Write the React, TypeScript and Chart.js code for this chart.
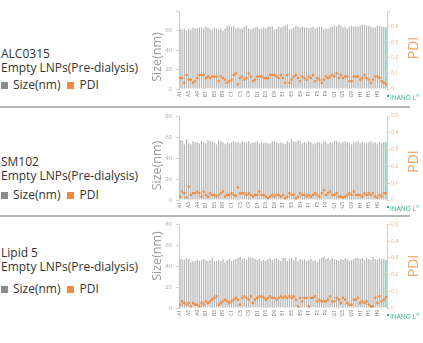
import React, { useEffect, useRef } from 'react';
import { Chart, registerables } from 'chart.js';

Chart.register(...registerables);

const ROWS = ['A', 'B', 'C', 'D', 'E', 'F', 'G', 'H'];
const COLS = [1, 2, 3, 4, 5, 6, 7, 8, 9, 10, 11, 12];
const WELLS = ROWS.flatMap((r) => COLS.map((c) => r + c));
const CATEGORIES = [...WELLS, 'INANO L'];

const SIZE_MAX = 80;
const SIZE_STEP = 20;
const PDI_MAX = 0.5;
const PDI_STEP = 0.1;

// ALC0315
const ALC_SIZE = [
  62, 61, 62, 60, 62, 61, 63, 62, 62, 63, 63, 62,
  64, 63, 62, 61, 63, 62, 61, 62, 60, 62, 65, 65,
  64, 65, 62, 63, 62, 62, 64, 65, 62, 61, 62, 63,
  64, 62, 62, 63, 62, 64, 64, 64, 61, 62, 64, 63,
  64, 65, 66, 61, 62, 63, 65, 64, 63, 64, 63, 63,
  62, 63, 64, 62, 63, 64, 64, 61, 62, 62, 63, 64,
  65, 64, 66, 65, 63, 64, 62, 64, 65, 64, 64, 64,
  65, 66, 66, 65, 65, 64, 63, 63, 65, 65, 64, 64,
  63,
];
const ALC_PDI = [
  0.07, 0.07, 0.04, 0.09, 0.06, 0.06, 0.04, 0.05, 0.07, 0.09, 0.09, 0.09,
  0.07, 0.08, 0.07, 0.08, 0.08, 0.08, 0.05, 0.08, 0.07, 0.06, 0.04, 0.05,
  0.06, 0.09, 0.1, 0.03, 0.07, 0.08, 0.06, 0.07, 0.1, 0.08, 0.05, 0.06,
  0.08, 0.08, 0.08, 0.07, 0.07, 0.07, 0.09, 0.09, 0.09, 0.08, 0.07, 0.09,
  0.07, 0.04, 0.09, 0.04, 0.06, 0.08, 0.09, 0.07, 0.05, 0.08, 0.07, 0.06,
  0.08, 0.07, 0.09, 0.05, 0.07, 0.06, 0.04, 0.06, 0.08, 0.07, 0.08, 0.09,
  0.08, 0.1, 0.07, 0.09, 0.07, 0.08, 0.08, 0.05, 0.05, 0.08, 0.08, 0.08,
  0.06, 0.07, 0.09, 0.07, 0.06, 0.04, 0.06, 0.08, 0.08, 0.07, 0.05, 0.04,
  0.03,
];

// SM102
const SM_SIZE = [
  57, 57, 53, 58, 54, 53, 56, 55, 55, 54, 56, 55,
  54, 57, 56, 56, 55, 53, 57, 56, 55, 53, 55, 54,
  55, 56, 55, 55, 54, 56, 55, 55, 56, 54, 55, 55,
  56, 54, 55, 54, 55, 54, 54, 56, 56, 55, 54, 55,
  54, 53, 56, 55, 58, 56, 55, 57, 56, 54, 55, 54,
  56, 55, 53, 54, 55, 55, 54, 56, 55, 53, 55, 54,
  56, 56, 55, 54, 55, 56, 55, 54, 53, 55, 55, 56,
  54, 55, 54, 54, 55, 56, 54, 55, 53, 55, 54, 55,
  55,
];
const SM_PDI = [
  0.02, 0.05, 0.04, 0.015, 0.08, 0.03, 0.04, 0.04, 0.05, 0.04, 0.02, 0.05,
  0.03, 0.02, 0.04, 0.03, 0.03, 0.02, 0.03, 0.04, 0.05, 0.02, 0.03, 0.03,
  0.04, 0.03, 0.025, 0.075, 0.04, 0.04, 0.04, 0.03, 0.04, 0.03, 0.02, 0.03,
  0.03, 0.05, 0.03, 0.03, 0.02, 0.01, 0.02, 0.03, 0.02, 0.03, 0.03, 0.02,
  0.03, 0.01, 0.02, 0.04, 0.03, 0.03, 0.01, 0.02, 0.04, 0.03, 0.03, 0.02,
  0.03, 0.02, 0.03, 0.04, 0.03, 0.02, 0.04, 0.06, 0.03, 0.04, 0.05, 0.03,
  0.03, 0.04, 0.02, 0.02, 0.015, 0.02, 0.03, 0.04, 0.03, 0.05, 0.03, 0.03,
  0.03, 0.02, 0.04, 0.03, 0.04, 0.03, 0.04, 0.02, 0.015, 0.03, 0.02, 0.04,
  0.04,
];

// Lipid 5
const L5_SIZE = [
  47, 47, 46, 48, 47, 44, 45, 45, 46, 45, 46, 47,
  46, 45, 46, 48, 45, 45, 46, 45, 47, 44, 46, 47,
  45, 46, 47, 48, 49, 47, 48, 46, 49, 48, 48, 47,
  46, 47, 45, 46, 45, 47, 48, 46, 47, 48, 46, 45,
  48, 48, 45, 47, 48, 46, 49, 45, 47, 46, 47, 45,
  46, 47, 45, 46, 44, 47, 48, 49, 47, 48, 46, 48,
  47, 46, 45, 47, 46, 48, 47, 45, 46, 47, 48, 48,
  47, 48, 46, 48, 47, 46, 49, 47, 46, 48, 47, 47,
  46,
];
const L5_PDI = [
  0.02, 0.04, 0.03, 0.02, 0.03, 0.01, 0.03, 0.02, 0.02, 0.01, 0.03, 0.02,
  0.04, 0.03, 0.04, 0.05, 0.06, 0.07, 0.02, 0.03, 0.04, 0.05, 0.04, 0.03,
  0.04, 0.05, 0.06, 0.05, 0.02, 0.06, 0.07, 0.06, 0.05, 0.07, 0.03, 0.05,
  0.06, 0.07, 0.07, 0.06, 0.05, 0.06, 0.07, 0.06, 0.06, 0.05, 0.06, 0.07,
  0.06, 0.07, 0.06, 0.07, 0.06, 0.07, 0.05, 0.01, 0.06, 0.04, 0.06, 0.06,
  0.01, 0.06, 0.06, 0.07, 0.04, 0.05, 0.04, 0.04, 0.04, 0.05, 0.07, 0.04,
  0.04, 0.06, 0.05, 0.03, 0.06, 0.05, 0.03, 0.02, 0.02, 0.05, 0.05, 0.06,
  0.03, 0.04, 0.03, 0.04, 0.02, 0.01, 0.01, 0.06, 0.03, 0.07, 0.04, 0.05,
  0.065,
];

const GRAY = '#b8b8b8';
const TEAL = '#5cc9ab';
const TEAL_TEXT = '#2fae8c';
const ORANGE = '#f08a3c';
const ORANGE_LIGHT = '#f4a466';
const TEXT = '#333333';
const FONT = '"Open Sans", sans-serif';

type Panel = {
  name: string;
  size: number[];
  pdi: number[];
  top: number;
  height: number;
  padTop: number;
  xHeight: number;
  hideTop: boolean;
  textY: [number, number, number];
  sizeTitleY: number;
  pdiTitleY: number;
};

const PANELS: Panel[] = [
  { name: 'ALC0315', size: ALC_SIZE, pdi: ALC_PDI, top: 0, height: 106, padTop: 11, xHeight: 17, hideTop: true, textY: [53.5, 67.5, 85], sizeTitleY: 57, pdiTitleY: 48 },
  { name: 'SM102', size: SM_SIZE, pdi: SM_PDI, top: 108, height: 106, padTop: 8, xHeight: 14, hideTop: false, textY: [162, 176, 195], sizeTitleY: 165.5, pdiTitleY: 161.5 },
  { name: 'Lipid 5', size: L5_SIZE, pdi: L5_PDI, top: 217, height: 126, padTop: 7, xHeight: 35, hideTop: false, textY: [253, 267, 289], sizeTitleY: 256, pdiTitleY: 266 },
];

function makeExtras(panel: Panel) {
  return {
    id: 'extras',
    afterDraw(chart: any) {
      const { ctx, chartArea } = chart;
      // left axis title
      ctx.save();
      ctx.translate(12, panel.sizeTitleY - panel.top);
      ctx.rotate(-Math.PI / 2);
      ctx.font = `12.5px ${FONT}`;
      ctx.fillStyle = '#9a9a9a';
      ctx.textAlign = 'center';
      ctx.textBaseline = 'middle';
      ctx.fillText('Size(nm)', 0, 0);
      ctx.restore();
      // right axis title
      ctx.save();
      ctx.translate(269, panel.pdiTitleY - panel.top);
      ctx.rotate(-Math.PI / 2);
      ctx.font = `14px ${FONT}`;
      ctx.fillStyle = ORANGE_LIGHT;
      ctx.textAlign = 'center';
      ctx.textBaseline = 'middle';
      ctx.fillText('PDI', 0, 0);
      ctx.restore();
      // INANO L label
      ctx.save();
      const lx = chartArea.right;
      const ly = chartArea.bottom + 9;
      ctx.fillStyle = TEAL_TEXT;
      ctx.fillRect(lx, ly - 3, 2, 2);
      ctx.font = `6.5px ${FONT}`;
      ctx.textAlign = 'left';
      ctx.textBaseline = 'middle';
      ctx.fillText('INANO L', lx + 3, ly);
      ctx.font = `4px ${FONT}`;
      ctx.fillText('®', lx + 29, ly - 2);
      ctx.restore();
    },
  };
}

function PanelChart({ panel }: { panel: Panel }) {
  const ref = useRef<HTMLCanvasElement>(null);
  useEffect(() => {
    const chart = new Chart(ref.current!, {
      data: {
        labels: CATEGORIES,
        datasets: [
          {
            type: 'line',
            label: 'PDI',
            data: panel.pdi,
            yAxisID: 'y1',
            showLine: false,
            pointStyle: 'rect',
            pointRadius: 1.6,
            pointBorderWidth: 0,
            backgroundColor: ORANGE,
            borderColor: ORANGE,
            order: 0,
          } as any,
          {
            type: 'bar',
            label: 'Size(nm)',
            data: panel.size,
            yAxisID: 'y',
            backgroundColor: CATEGORIES.map((_, i) => (i === WELLS.length ? TEAL : GRAY)),
            barPercentage: 0.6,
            categoryPercentage: 1,
            order: 1,
          } as any,
        ],
      },
      options: {
        animation: false,
        responsive: false,
        maintainAspectRatio: false,
        layout: { padding: { top: panel.padTop, left: 0, right: 0, bottom: 0 } },
        plugins: { legend: { display: false }, tooltip: { enabled: false } },
        scales: {
          x: {
            grid: { display: false, drawTicks: false },
            border: { display: false },
            ticks: {
              autoSkip: false,
              minRotation: 90,
              maxRotation: 90,
              padding: 2,
              color: '#777',
              font: { size: 5, family: FONT },
              callback: (_v: any, i: number) => (i < WELLS.length && i % 4 === 0 ? CATEGORIES[i] : ''),
            },
            afterFit: (s: any) => {
              s.height = panel.xHeight;
            },
          },
          y: {
            position: 'left',
            min: 0,
            max: SIZE_MAX,
            grid: { display: true, drawOnChartArea: false, drawTicks: true, tickLength: 3, color: '#d5d5d5' },
            border: { display: true, color: '#cfcfcf', width: 1 },
            ticks: {
              stepSize: SIZE_STEP,
              padding: 4,
              color: '#aaa',
              font: { size: 6, family: FONT },
              callback: (v: any) => (panel.hideTop && v === SIZE_MAX ? '' : String(v)),
            },
            afterFit: (s: any) => {
              s.width = 34;
            },
          },
          y1: {
            position: 'right',
            min: 0,
            max: PDI_MAX,
            grid: { display: true, drawOnChartArea: false, drawTicks: true, tickLength: 3, color: '#f7c9a4' },
            border: { display: true, color: '#cfcfcf', width: 1 },
            ticks: {
              stepSize: PDI_STEP,
              padding: 1,
              color: ORANGE_LIGHT,
              font: { size: 5, family: FONT },
              callback: (v: any) => {
                const n = Math.round(Number(v) * 10) / 10;
                if (panel.hideTop && n === PDI_MAX) return '';
                return n === 0 ? '0' : n.toFixed(1);
              },
            },
            afterFit: (s: any) => {
              s.width = 36;
            },
          },
        },
      } as any,
      plugins: [makeExtras(panel)],
    });
    return () => chart.destroy();
  }, [panel]);
  return (
    <canvas
      ref={ref}
      width={278}
      height={panel.height}
      style={{ position: 'absolute', left: 145, top: panel.top, width: 278, height: panel.height, display: 'block' }}
    />
  );
}

function SideText({ panel }: { panel: Panel }) {
  const line = (y: number, content: React.ReactNode, key: string) => (
    <div
      key={key}
      style={{ position: 'absolute', left: 1, top: y - 7, height: 14, lineHeight: '14px', fontSize: 12, color: TEXT, whiteSpace: 'nowrap' }}
    >
      {content}
    </div>
  );
  const sq = (color: string) => (
    <span style={{ display: 'inline-block', width: 7, height: 7, background: color, marginRight: 5, verticalAlign: '0px' }} />
  );
  return (
    <>
      {line(panel.textY[0], panel.name, 'a')}
      {line(panel.textY[1], 'Empty LNPs(Pre-dialysis)', 'b')}
      {line(
        panel.textY[2],
        <>
          {sq('#8c8c8c')}
          <span style={{ marginRight: 6 }}>Size(nm)</span>
          {sq(ORANGE)}
          <span style={{ marginLeft: 1 }}>PDI</span>
        </>,
        'c'
      )}
    </>
  );
}

export default function App() {
  return (
    <div style={{ position: 'absolute', left: 0, top: 0, width: 423, height: 343, background: '#fff', fontFamily: FONT, overflow: 'hidden' }}>
      {PANELS.map((p) => (
        <React.Fragment key={p.name}>
          <SideText panel={p} />
          <PanelChart panel={p} />
        </React.Fragment>
      ))}
      <div style={{ position: 'absolute', left: 0, top: 106, width: 410, height: 2, background: '#b5b5b5' }} />
      <div style={{ position: 'absolute', left: 0, top: 215, width: 410, height: 2, background: '#b5b5b5' }} />
    </div>
  );
}
